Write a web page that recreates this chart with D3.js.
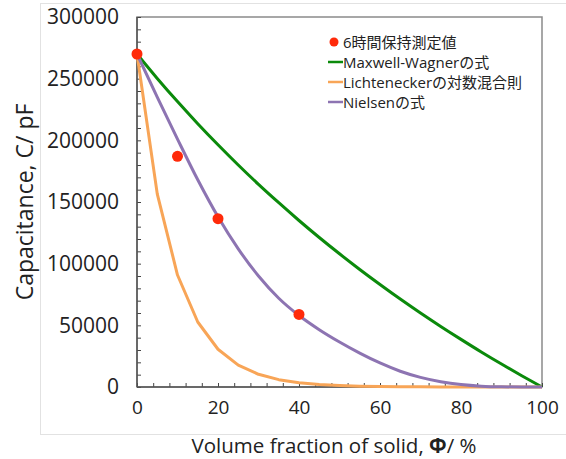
<!DOCTYPE html>
<html>
<head>
<meta charset="utf-8">
<style>
  body { margin: 0; background: #fff; }
  text { font-family: "Open Sans", "Noto Sans CJK JP", sans-serif; fill: #222; }
</style>
</head>
<body>
<svg width="566" height="459"></svg>
<script src="https://cdn.jsdelivr.net/npm/d3@7"></script>
<script>

// volume fraction (%) for the model curves
var phi = [0, 5, 10, 15, 20, 25, 30, 35, 40, 45, 50, 55, 60, 65, 70, 75, 80, 85, 90, 95, 100];
var maxwellWagner = [270000, 250200, 231400, 213500, 196400, 180000, 164300, 149400, 135000, 121200, 108000,
                     95300, 83100, 71300, 60000, 49100, 38600, 28400, 18600, 9150, 0];
var lichtenecker = [270000, 156600, 90800, 52700, 30600, 17700, 10300, 5960, 3460, 2000, 1160,
                    675, 390, 227, 132, 76, 44, 26, 15, 9, 5];
var nielsen = [270000, 235000, 201000, 168000, 138000, 112000, 90000, 72000, 58000, 46500, 36500,
               27500, 19500, 12800, 7800, 4300, 2000, 700, 150, 0, 0];
// measured after 6 hours
var measPhi = [0, 10, 20, 40];
var measC = [270000, 187000, 136500, 58800];

var xTicks = [0, 20, 40, 60, 80, 100];
var yTicks = [0, 50000, 100000, 150000, 200000, 250000, 300000];
var legendNames = ["6時間保持測定値", "Maxwell-Wagnerの式", "Lichteneckerの対数混合則", "Nielsenの式"];

var svg = d3.select("svg"),
    pLeft = 137, pRight = 542, pTop = 17, pBottom = 387;

var x = d3.scaleLinear().domain([0, 100]).range([pLeft, pRight]);
var y = d3.scaleLinear().domain([0, 300000]).range([pBottom, pTop]);

// light outer frame
svg.append("rect")
    .attr("x", 40.5).attr("y", 3.5).attr("width", 540).attr("height", 431)
    .style("fill", "none").style("stroke", "#e2e2e2");

// plot box
svg.append("rect")
    .attr("x", pLeft).attr("y", pTop).attr("width", pRight - pLeft).attr("height", pBottom - pTop)
    .style("fill", "#fff").style("stroke", "#8a8a8a").style("stroke-width", 1.5);

// minor ticks (inward)
svg.append("g")
    .attr("transform", "translate(0," + pBottom + ")")
    .call(d3.axisBottom(x).tickValues(d3.range(0, 101, 4)).tickSize(-4).tickFormat(""))
    .call(function(g){ g.select(".domain").remove(); g.selectAll("line").style("stroke", "#444"); });
svg.append("g")
    .attr("transform", "translate(" + pLeft + ",0)")
    .call(d3.axisLeft(y).tickValues(d3.range(0, 300001, 10000)).tickSize(-4).tickFormat(""))
    .call(function(g){ g.select(".domain").remove(); g.selectAll("line").style("stroke", "#444"); });

// tick labels
svg.append("g")
    .attr("transform", "translate(0," + pBottom + ")")
    .call(d3.axisBottom(x).tickValues(xTicks).tickSize(0).tickPadding(14))
    .call(function(g){
        g.select(".domain").remove();
        g.selectAll("text").style("font-size", "19px").style("font-family", "'Open Sans', sans-serif").attr("fill", "#222");
    });
svg.append("g")
    .attr("transform", "translate(" + pLeft + ",0)")
    .call(d3.axisLeft(y).tickValues(yTicks).tickSize(0).tickPadding(18).tickFormat(d3.format("d")))
    .call(function(g){
        g.select(".domain").remove();
        g.selectAll("text").style("font-size", "21px").style("font-family", "'Open Sans', sans-serif").attr("fill", "#222");
    });

// axis lines
svg.append("line").attr("x1", pLeft).attr("x2", pLeft).attr("y1", pTop).attr("y2", pBottom)
    .style("stroke", "#555").style("stroke-width", 1.5);
svg.append("line").attr("x1", pLeft).attr("x2", pRight).attr("y1", pBottom).attr("y2", pBottom)
    .style("stroke", "#555").style("stroke-width", 1.5);

// axis titles
var xt = svg.append("text")
    .attr("x", 334).attr("y", 453)
    .attr("text-anchor", "middle")
    .style("font-size", "20.5px");
xt.append("tspan").text("Volume fraction of solid, ");
xt.append("tspan").style("font-weight", "bold").text("Φ");
xt.append("tspan").text("/ %");
svg.append("text")
    .attr("transform", "translate(33,202) rotate(-90)")
    .attr("text-anchor", "middle")
    .style("font-size", "23px")
    .text("Capacitance, C/ pF");

// curves
var line = function(vals, curve){
    return d3.line()
        .x(function(d, i){ return x(phi[i]); })
        .y(function(d){ return y(d); })
        .curve(curve)(vals);
};
var series = [
    {vals: maxwellWagner, color: "#0b8a0b", curve: d3.curveMonotoneX},
    {vals: lichtenecker, color: "#f8a557", curve: d3.curveLinear},
    {vals: nielsen, color: "#8d74b2", curve: d3.curveMonotoneX}
];
series.forEach(function(s){
    svg.append("path")
        .attr("d", line(s.vals, s.curve))
        .style("fill", "none").style("stroke", s.color).style("stroke-width", 3)
        .style("stroke-linejoin", "round");
});

// measured points
svg.selectAll(".pt").data(measPhi).enter().append("circle")
    .attr("class", "pt")
    .attr("cx", function(d){ return x(d); })
    .attr("cy", function(d, i){ return y(measC[i]); })
    .attr("r", 5.5)
    .style("fill", "#ff2a0a");

// legend
var lg = svg.append("g");
var rows = [42, 62, 82, 102];
lg.append("circle").attr("cx", 334).attr("cy", rows[0]).attr("r", 4.5).style("fill", "#ff2a0a");
[series[0].color, series[1].color, series[2].color].forEach(function(c, i){
    lg.append("line").attr("x1", 328).attr("x2", 343).attr("y1", rows[i + 1]).attr("y2", rows[i + 1])
        .style("stroke", c).style("stroke-width", 2.5);
});
legendNames.forEach(function(n, i){
    lg.append("text").attr("x", 343).attr("y", rows[i] + 5.5)
        .style("font-size", "15px").text(n);
});
</script>
</body>
</html>
